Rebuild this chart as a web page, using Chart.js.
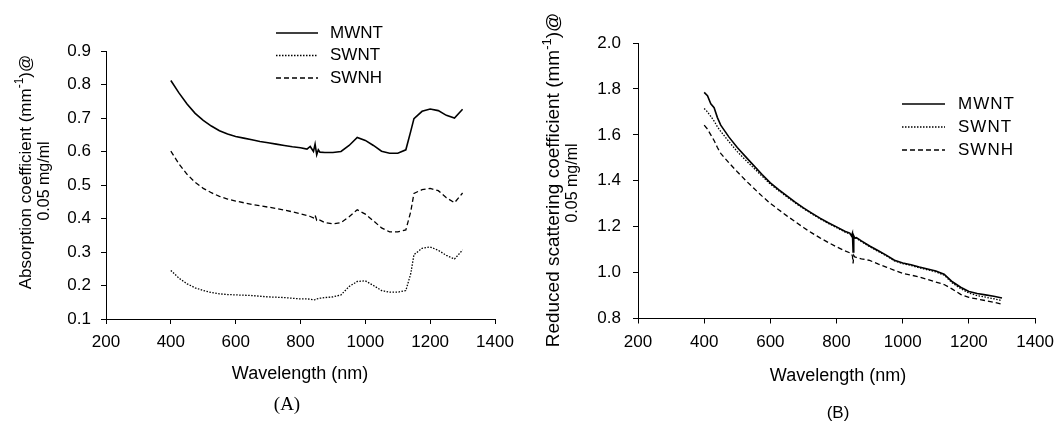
<!DOCTYPE html>
<html>
<head>
<meta charset="utf-8">
<script src="https://cdn.jsdelivr.net/npm/chart.js@4.4.0/dist/chart.umd.min.js"></script>
<style>
  body { margin: 0; background: #fff; }
  #wrap { position: relative; width: 1063px; height: 421px; }
  canvas { position: absolute; top: 0; }
</style>
</head>
<body>
<div id="wrap">
  <canvas id="chartA" width="531" height="421" style="left:0"></canvas>
  <canvas id="chartB" width="532" height="421" style="left:531px"></canvas>
</div>
<script>
// ---- data ----
const seriesNames = ['MWNT', 'SWNT', 'SWNH'];
const xTickValues = [200, 400, 600, 800, 1000, 1200, 1400];
const yTicksA = [0.1, 0.2, 0.3, 0.4, 0.5, 0.6, 0.7, 0.8, 0.9];
const yTicksB = [0.8, 1.0, 1.2, 1.4, 1.6, 1.8, 2.0];

// (A) absorption coefficient
const wavelengthA = [400, 425, 450, 475, 500, 525, 550, 575, 600, 625, 650, 675, 700, 725, 750, 775, 800,
  820, 830, 840, 845, 850, 855, 860,
  875, 900, 925, 950, 975, 1000, 1025, 1050, 1075, 1100, 1125,
  1140,
  1150, 1175, 1200, 1225, 1250, 1275, 1300];
const absMWNT = [0.812, 0.775, 0.742, 0.714, 0.693, 0.676, 0.662, 0.652, 0.645, 0.640, 0.635, 0.630, 0.626, 0.622, 0.618, 0.614, 0.611,
  0.607, 0.615, 0.600, 0.622, 0.590, 0.605, 0.598,
  0.597, 0.597, 0.600, 0.618, 0.642, 0.633, 0.618, 0.601, 0.595, 0.595, 0.605,
  0.660,
  0.698, 0.720, 0.727, 0.722, 0.708, 0.700, 0.726];
const absSWNT = [0.245, 0.222, 0.205, 0.193, 0.185, 0.179, 0.175, 0.173, 0.172, 0.171, 0.170, 0.168, 0.166, 0.165, 0.164, 0.162, 0.160,
  0.160, 0.159, 0.157, 0.158, 0.160, 0.161, 0.162,
  0.164, 0.166, 0.172, 0.197, 0.212, 0.214, 0.200, 0.185, 0.180, 0.180, 0.185,
  0.235,
  0.292, 0.311, 0.315, 0.305, 0.290, 0.279, 0.306];
const absSWNH = [0.601, 0.563, 0.532, 0.508, 0.490, 0.477, 0.466, 0.458, 0.452, 0.447, 0.442, 0.438, 0.434, 0.430, 0.425, 0.420, 0.414,
  0.409, 0.406, 0.402, 0.410, 0.395, 0.398, 0.395,
  0.388, 0.384, 0.388, 0.405, 0.426, 0.413, 0.393, 0.372, 0.360, 0.360, 0.366,
  0.420,
  0.475, 0.486, 0.490, 0.483, 0.462, 0.447, 0.476];

// (B) reduced scattering coefficient
const wavelengthB = [400, 410, 420, 430, 440, 450,
  475, 500, 525, 550, 575, 600, 625, 650, 675, 700, 725, 750, 775, 800, 825,
  840, 845, 848, 850, 852, 855, 860,
  875, 900, 925, 950, 975, 1000, 1025, 1050, 1075, 1100, 1125, 1150, 1175, 1200, 1225, 1250, 1275, 1300];
const scatMWNT = [1.785, 1.770, 1.735, 1.718, 1.675, 1.642,
  1.590, 1.545, 1.505, 1.466, 1.427, 1.391, 1.361, 1.334, 1.307, 1.282, 1.259, 1.237, 1.217, 1.199, 1.180,
  1.172, 1.160, 1.172, 1.090, 1.160, 1.150, 1.152,
  1.138, 1.116, 1.096, 1.076, 1.054, 1.042, 1.034, 1.024, 1.016, 1.007, 0.993, 0.960, 0.936, 0.918, 0.909, 0.903, 0.897, 0.889];
const scatSWNT = [1.715, 1.700, 1.680, 1.660, 1.635, 1.615,
  1.570, 1.527, 1.490, 1.455, 1.420, 1.385, 1.357, 1.330, 1.303, 1.279, 1.256, 1.234, 1.214, 1.196, 1.177,
  1.168, 1.165, 1.163, 1.150, 1.155, 1.152, 1.149,
  1.135, 1.113, 1.093, 1.073, 1.051, 1.039, 1.031, 1.021, 1.012, 1.003, 0.989, 0.955, 0.930, 0.911, 0.900, 0.893, 0.886, 0.878];
const scatSWNH = [1.642, 1.625, 1.600, 1.575, 1.545, 1.519,
  1.478, 1.439, 1.402, 1.367, 1.333, 1.301, 1.274, 1.247, 1.222, 1.196, 1.173, 1.151, 1.131, 1.112, 1.095,
  1.086, 1.082, 1.072, 1.040, 1.075, 1.068, 1.066,
  1.060, 1.053, 1.038, 1.024, 1.010, 0.997, 0.989, 0.981, 0.970, 0.959, 0.948, 0.928, 0.905, 0.892, 0.885, 0.878, 0.871, 0.862];

// ---- styling ----
const SANS = '"Liberation Sans", Arial, sans-serif';
const SERIF = '"Liberation Serif", "Times New Roman", serif';
Chart.defaults.font.family = SANS;
Chart.defaults.color = '#000';

const dashes = { MWNT: [], SWNT: [1.5, 1.5], SWNH: [5, 3] };
const widths = { MWNT: 1.6, SWNT: 1.3, SWNH: 1.3 };

function points(xs, ys) {
  return xs.map((x, i) => ({ x: x, y: ys[i] }));
}

function makeDatasets(xs, list) {
  return list.map((ys, i) => ({
    label: seriesNames[i],
    data: points(xs, ys),
    borderColor: '#000',
    borderWidth: widths[seriesNames[i]],
    borderDash: dashes[seriesNames[i]],
    pointRadius: 0,
    fill: false,
    tension: 0
  }));
}

// draws a line of text made of parts (some may be superscript), centred at cx,cy
function drawParts(ctx, parts, cx, cy, rotate) {
  ctx.save();
  ctx.translate(cx, cy);
  if (rotate) ctx.rotate(-Math.PI / 2);
  ctx.textBaseline = 'middle';
  ctx.textAlign = 'left';
  ctx.fillStyle = '#000';
  let total = 0;
  parts.forEach(p => {
    ctx.font = p.size + 'px ' + (p.family || SANS);
    p.w = ctx.measureText(p.t).width;
    total += p.w;
  });
  let x = -total / 2;
  parts.forEach(p => {
    ctx.font = p.size + 'px ' + (p.family || SANS);
    ctx.fillText(p.t, x, p.rise ? -p.rise : 0);
    x += p.w;
  });
  ctx.restore();
}

const annotate = {
  id: 'annotate',
  afterDraw(chart, args, opts) {
    const ctx = chart.ctx;
    (opts.texts || []).forEach(t => drawParts(ctx, t.parts, t.x, t.y, t.rotate));
    const lg = opts.legend;
    if (!lg) return;
    chart.data.datasets.forEach((ds, i) => {
      const y = lg.y + i * lg.gap;
      ctx.save();
      ctx.strokeStyle = '#000';
      ctx.lineWidth = ds.borderWidth;
      ctx.setLineDash(ds.borderDash);
      ctx.beginPath();
      ctx.moveTo(lg.x, y);
      ctx.lineTo(lg.x + lg.len, y);
      ctx.stroke();
      ctx.setLineDash([]);
      ctx.fillStyle = '#000';
      ctx.font = lg.size + 'px ' + SANS;
      ctx.textBaseline = 'middle';
      if (lg.spacing) ctx.letterSpacing = lg.spacing;
      ctx.fillText(ds.label, lg.x + lg.len + lg.textGap, y);
      ctx.restore();
    });
  }
};

function axisOpts(min, max, tickValues, size, pad, fmt) {
  return {
    type: 'linear',
    min: min,
    max: max,
    afterBuildTicks: axis => { axis.ticks = tickValues.map(v => ({ value: v })); },
    border: { display: true, color: '#000', width: 1 },
    grid: { display: true, drawOnChartArea: false, drawTicks: true, tickLength: 5, tickColor: '#000', lineWidth: 1 },
    ticks: { color: '#000', font: { size: 17 }, padding: pad, maxRotation: 0, autoSkip: false, callback: fmt },
    afterFit: size
  };
}

// ---- chart A ----
new Chart(document.getElementById('chartA'), {
  type: 'line',
  data: { datasets: makeDatasets(wavelengthA, [absMWNT, absSWNT, absSWNH]) },
  options: {
    responsive: false,
    animation: false,
    layout: { padding: { left: 0, top: 51, right: 36, bottom: 0 } },
    plugins: {
      legend: { display: false },
      tooltip: { enabled: false },
      annotate: {
        legend: { x: 276, y: 33, gap: 22.5, len: 42, textGap: 12, size: 17 },
        texts: [
          { rotate: true, x: 26, y: 172, parts: [
            { t: 'Absorption coefficient (mm', size: 17 },
            { t: '-1', size: 12, rise: 6 },
            { t: ')@', size: 17 }] },
          { rotate: true, x: 45, y: 181, parts: [{ t: '0.05 mg/ml', size: 16 }] },
          { x: 300, y: 374, parts: [{ t: 'Wavelength (nm)', size: 18 }] },
          { x: 287, y: 405, parts: [{ t: '(A)', size: 19, family: SERIF }] }
        ]
      }
    },
    scales: {
      x: axisOpts(200, 1400, xTickValues, s => { s.height = 102; }, 8, v => v),
      y: axisOpts(0.1, 0.9, yTicksA, s => { s.width = 106; }, 10, v => v.toFixed(1))
    }
  },
  plugins: [annotate]
});

// ---- chart B ----
new Chart(document.getElementById('chartB'), {
  type: 'line',
  data: { datasets: makeDatasets(wavelengthB, [scatMWNT, scatSWNT, scatSWNH]) },
  options: {
    responsive: false,
    animation: false,
    layout: { padding: { left: 0, top: 43, right: 23, bottom: 0 } },
    plugins: {
      legend: { display: false },
      tooltip: { enabled: false },
      annotate: {
        legend: { x: 371, y: 104, gap: 23, len: 43, textGap: 13, size: 17, spacing: '1px' },
        texts: [
          { rotate: true, x: 23, y: 180, parts: [
            { t: 'Reduced scattering coefficient (mm', size: 19 },
            { t: '-1', size: 13, rise: 7 },
            { t: ')@', size: 19 }] },
          { rotate: true, x: 42, y: 183, parts: [{ t: '0.05 mg/ml', size: 16 }] },
          { x: 307, y: 376, parts: [{ t: 'Wavelength (nm)', size: 18 }] },
          { x: 307, y: 413, parts: [{ t: '(B)', size: 17 }] }
        ]
      }
    },
    scales: {
      x: axisOpts(200, 1400, xTickValues, s => { s.height = 102.5; }, 9, v => v),
      y: axisOpts(0.8, 2.0, yTicksB, s => { s.width = 107; }, 12, v => v.toFixed(1))
    }
  },
  plugins: [annotate]
});
</script>
</body>
</html>
